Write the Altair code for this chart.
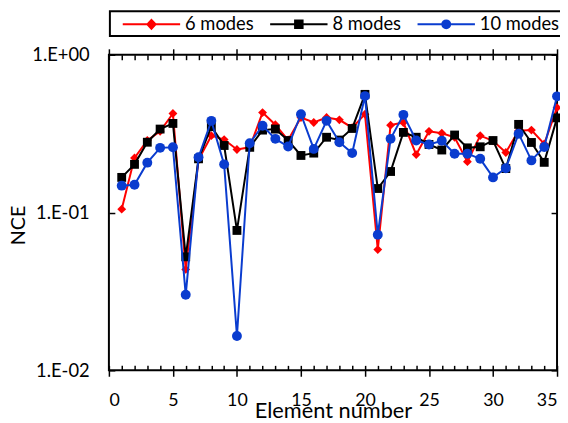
import altair as alt
import pandas as pd

# ---- data ----
elements = list(range(1, 36))
series_names = ["6 modes", "8 modes", "10 modes"]
colors = ["#ff0000", "#000000", "#0a3ccf"]

nce_6 = [0.105, 0.222, 0.286, 0.327, 0.424, 0.0436, 0.216, 0.307, 0.290, 0.251,
         0.259, 0.430, 0.360, 0.288, 0.400, 0.372, 0.400, 0.387, 0.345, 0.420,
         0.0582, 0.358, 0.372, 0.233, 0.327, 0.318, 0.300, 0.210, 0.307, 0.285,
         0.240, 0.330, 0.333, 0.272, 0.462]
nce_8 = [0.167, 0.202, 0.279, 0.338, 0.367, 0.0524, 0.219, 0.350, 0.266, 0.0770,
         0.259, 0.333, 0.338, 0.286, 0.230, 0.238, 0.300, 0.288, 0.341, 0.561,
         0.142, 0.182, 0.322, 0.300, 0.270, 0.249, 0.310, 0.257, 0.261, 0.286,
         0.190, 0.362, 0.278, 0.208, 0.398]
nce_10 = [0.148, 0.150, 0.207, 0.257, 0.259, 0.0301, 0.224, 0.381, 0.202, 0.0165,
          0.275, 0.355, 0.293, 0.262, 0.420, 0.253, 0.381, 0.279, 0.238, 0.547,
          0.0723, 0.293, 0.416, 0.286, 0.270, 0.285, 0.236, 0.236, 0.219, 0.167,
          0.191, 0.316, 0.214, 0.260, 0.545]

x_major = [0, 5, 10, 15, 20, 25, 30, 35]
x_minor = list(range(0, 36))
y_ticks = [0.01, 0.1, 1.0]
y_tick_labels = ["1.E-02", "1.E-01", "1.E+00"]

markers = ["diamond", "square", "circle"]
marker_sizes = [80, 80, 100]
legend_paths = [
    "M-2.9,0L2.9,0M-0.42,0L0,-0.45L0.42,0L0,0.45Z",
    "M-2.9,0L2.9,0M-0.38,-0.38L0.38,-0.38L0.38,0.38L-0.38,0.38Z",
    "M-2.9,0L2.9,0M0.4,0A0.4,0.4,0,1,1,-0.4,0A0.4,0.4,0,1,1,0.4,0Z",
]

rows = []
for name, vals in zip(series_names, [nce_6, nce_8, nce_10]):
    for e, v in zip(elements, vals):
        rows.append({"x": e, "value": v, "series": name})
df = pd.DataFrame(rows)

FONT = "Lato"
xscale = alt.Scale(domain=[0, 35], nice=False, zero=False)
yscale = alt.Scale(type="log", domain=[0.01, 1], nice=False)

label_expr = (
    f"datum.value < 0.05 ? '{y_tick_labels[0]}' : "
    f"(datum.value < 0.5 ? '{y_tick_labels[1]}' : '{y_tick_labels[2]}')"
)

ax_bottom_main = alt.Axis(orient="bottom", values=x_major, tickSize=6, tickWidth=1.5,
                          tickColor="black", domain=False, grid=False, labelPadding=16,
                          labelFont=FONT, labelFontSize=18, labelColor="black",
                          title="Element number", titleFont=FONT, titleFontSize=22,
                          titleFontWeight="normal", titleColor="black",
                          titleY=48, titleBaseline="alphabetic")
ax_bottom_inner = alt.Axis(orient="bottom", values=x_minor, offset=-5, tickSize=5,
                           tickWidth=1.5, tickColor="black", domain=False, grid=False,
                           labels=False, title=None)
ax_top_main = alt.Axis(orient="top", values=x_major, tickSize=6, tickWidth=1.5,
                       tickColor="black", domain=False, grid=False, labels=False, title=None)
ax_top_inner = alt.Axis(orient="top", values=x_minor, offset=-5, tickSize=5,
                        tickWidth=1.5, tickColor="black", domain=False, grid=False,
                        labels=False, title=None)

ay_left_main = alt.Axis(orient="left", values=y_ticks, ticks=False, domain=False, grid=False,
                        labelPadding=20, labelExpr=label_expr, labelFont=FONT,
                        labelFontSize=18.5, labelColor="black",
                        title="NCE", titleFont=FONT, titleFontSize=20,
                        titleFontWeight="normal", titleColor="black",
                        titleX=-91, titleY=172, titleAlign="center", titleBaseline="middle")
ay_left_inner = alt.Axis(orient="left", values=y_ticks, offset=-6, tickSize=6, tickWidth=1.5,
                         tickColor="black", domain=False, grid=False, labels=False, title=None)
ay_right_inner = alt.Axis(orient="right", values=y_ticks, offset=-6, tickSize=6, tickWidth=1.5,
                          tickColor="black", domain=False, grid=False, labels=False, title=None)

x_axes = [ax_bottom_main, ax_bottom_inner, ax_top_main, ax_top_inner, None, None]
y_axes = [ay_left_main, ay_left_inner, ay_right_inner, None, None, None]

base = alt.Chart(df)
layers = []
k = 0
for i, name in enumerate(series_names):
    sub = base.transform_filter(alt.datum.series == name)
    line = sub.mark_line(color=colors[i], strokeWidth=2).encode(
        x=alt.X("x:Q", scale=xscale, axis=x_axes[k]),
        y=alt.Y("value:Q", scale=yscale, axis=y_axes[k]),
    )
    k += 1
    pts = sub.mark_point(shape=markers[i], filled=True, size=marker_sizes[i],
                         color=colors[i], opacity=1).encode(
        x=alt.X("x:Q", scale=xscale, axis=x_axes[k]),
        y=alt.Y("value:Q", scale=yscale, axis=y_axes[k]),
    )
    k += 1
    layers += [line, pts]

leg = alt.Legend(title=None, orient="none", legendX=1, legendY=-44, direction="horizontal",
                 columns=3, symbolSize=400, symbolStrokeWidth=2, symbolOffset=29,
                 labelOffset=23, labelFont=FONT, labelFontSize=18.5, labelColor="black",
                 columnPadding=5, padding=2, strokeColor="black", symbolOpacity=1)

legend_layer = base.transform_filter("datum.x < 0").mark_point(filled=True, opacity=1).encode(
    x=alt.X("x:Q", scale=xscale, axis=None),
    y=alt.Y("value:Q", scale=yscale, axis=None),
    fill=alt.Fill("series:N", scale=alt.Scale(domain=series_names, range=colors), legend=leg),
    stroke=alt.Stroke("series:N", scale=alt.Scale(domain=series_names, range=colors), legend=leg),
    shape=alt.Shape("series:N", scale=alt.Scale(domain=series_names, range=legend_paths), legend=leg),
)
layers.append(legend_layer)

chart = alt.layer(*layers).resolve_axis(x="independent", y="independent").properties(
    width=453, height=319,
    autosize=alt.AutoSizeParams(type="none"),
    padding={"left": 102, "top": 45, "right": 3, "bottom": 51},
    background="white",
).configure_view(stroke="black", strokeWidth=2).configure_legend(strokeWidth=2)

chart.save("out.html", embed_options={"renderer": "svg", "actions": False})
